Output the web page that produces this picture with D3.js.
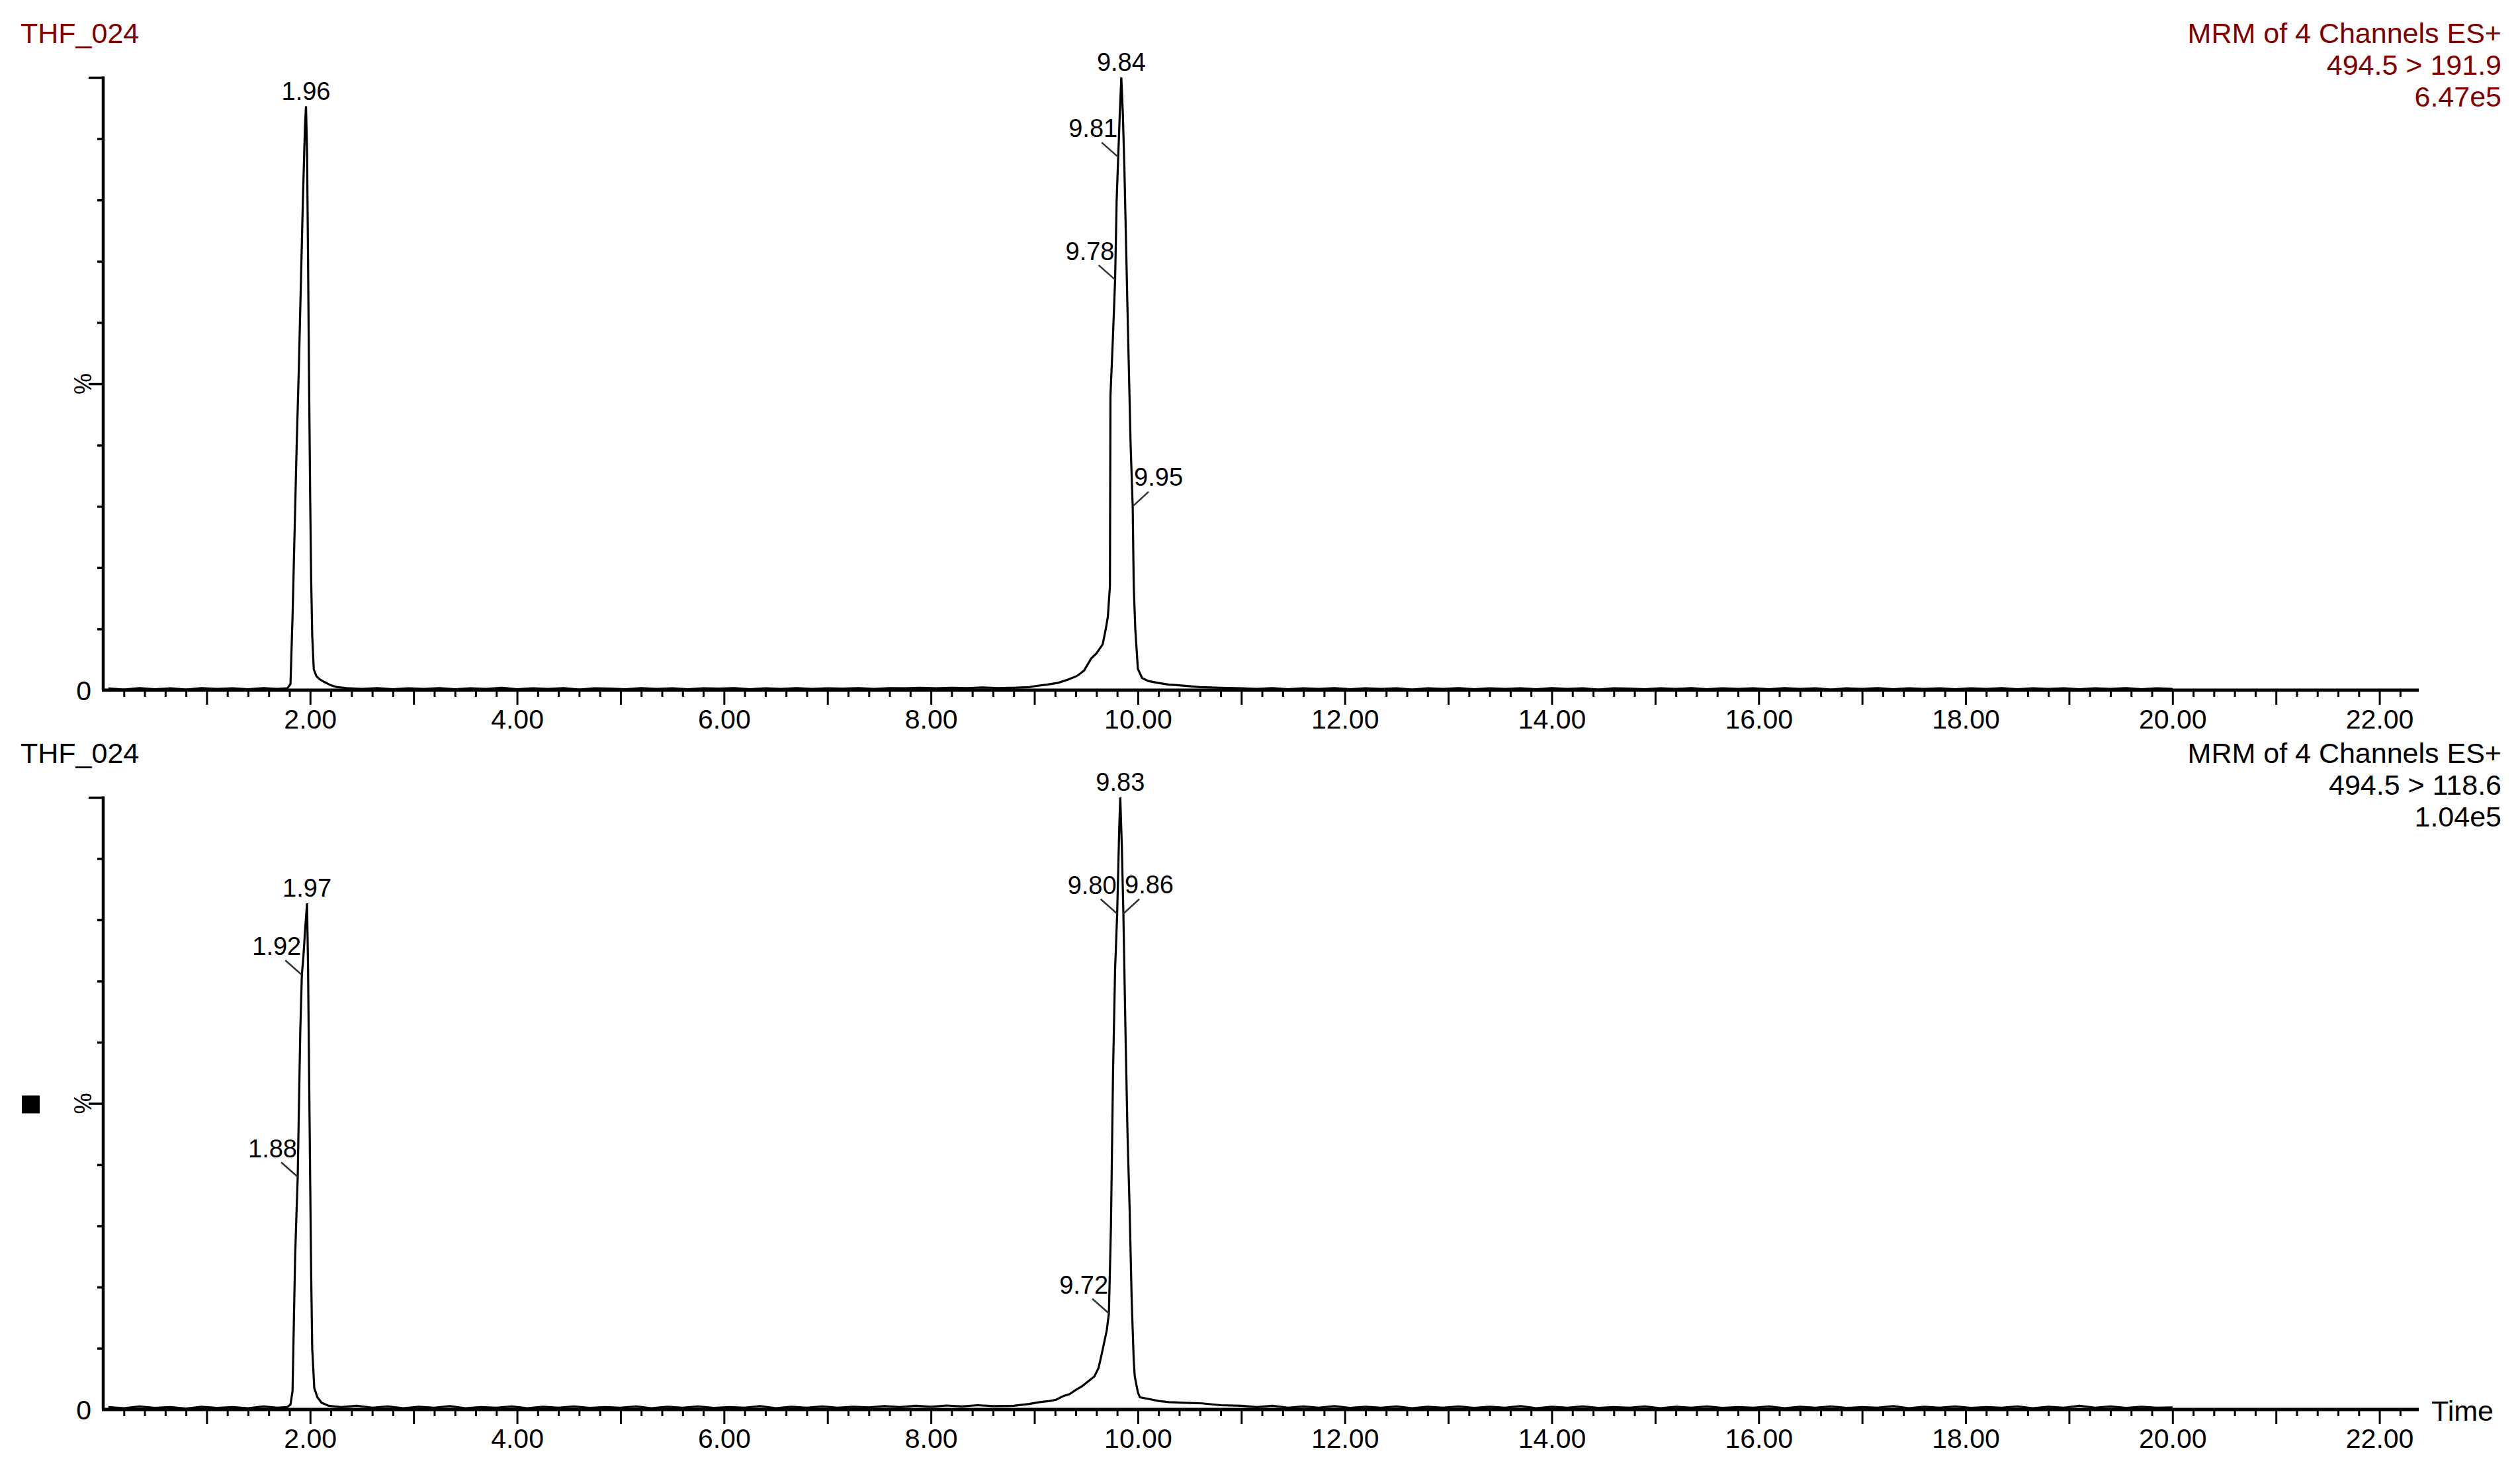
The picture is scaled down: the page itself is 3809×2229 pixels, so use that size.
<!DOCTYPE html>
<html>
<head>
<meta charset="utf-8">
<script src="https://cdn.jsdelivr.net/npm/d3@7"></script>
<style>
  html, body { margin: 0; padding: 0; background: #fff; }
  svg { display: block; }
  text { font-family: "Liberation Sans", Arial, sans-serif; }
</style>
</head>
<body>
<svg id="chart" width="3809" height="2229"></svg>
<script>
// ---------------- DATA ----------------
const panelTitles = ["THF_024", "THF_024"];
const panelHeaderLines = [
  ["MRM of 4 Channels ES+", "494.5 > 191.9", "6.47e5"],
  ["MRM of 4 Channels ES+", "494.5 > 118.6", "1.04e5"]
];
const xLabelTicks = [2, 4, 6, 8, 10, 12, 14, 16, 18, 20, 22];
const xLabelText = ["2.00", "4.00", "6.00", "8.00", "10.00", "12.00", "14.00", "16.00", "18.00", "20.00", "22.00"];
const yShortTicks = [10, 20, 30, 40, 60, 70, 80, 90];
const yLongTicks = [50, 100];

// chromatogram 494.5 > 191.9 : [time (min), intensity (%)]
const traceTop = [
  [0.05,0.3],[0.2,0.1],[0.35,0.35],[0.5,0.15],[0.65,0.3],[0.8,0.1],[0.95,0.35],[1.1,0.2],[1.25,0.3],[1.4,0.15],[1.55,0.35],[1.68,0.2],
  [1.78,0.3],[1.81,1],[1.83,12],[1.85,26],[1.87,40],[1.89,52],[1.91,66],[1.93,80],[1.95,92],[1.96,95.3],[1.97,88],[1.98,70],[1.99,50],[2.00,32],[2.01,18],[2.02,9],[2.035,3.4],[2.06,2.3],[2.09,1.8],[2.13,1.4],[2.2,0.8],[2.26,0.5],[2.35,0.35],
  [2.5,0.2],[2.65,0.35],[2.8,0.15],[2.95,0.3],[3.1,0.2],[3.25,0.35],[3.4,0.15],[3.55,0.3],[3.7,0.2],[3.85,0.4],[4.0,0.15],[4.15,0.3],[4.3,0.2],[4.45,0.35],[4.6,0.1],[4.75,0.3],[4.9,0.25],[5.05,0.15],[5.2,0.35],[5.35,0.2],[5.5,0.3],[5.65,0.15],[5.8,0.3],[5.95,0.25],[6.1,0.35],[6.25,0.15],[6.4,0.3],[6.55,0.2],[6.7,0.35],[6.85,0.2],[7.0,0.3],[7.15,0.25],[7.3,0.35],[7.45,0.2],[7.6,0.35],[7.75,0.3],[7.9,0.4],[8.05,0.3],[8.2,0.4],[8.35,0.35],[8.5,0.45],[8.65,0.35],
  [8.80,0.4],[8.95,0.5],[9.02,0.7],[9.12,0.9],[9.23,1.2],[9.32,1.7],[9.41,2.3],[9.48,3.2],[9.55,5.2],[9.60,6],[9.66,7.5],[9.69,10],[9.71,12],[9.73,17],[9.735,48],[9.76,58],[9.78,67],[9.795,80],[9.81,87],[9.825,94],[9.84,100],[9.855,94],[9.87,85],[9.90,62],[9.93,40],[9.95,30],[9.96,17],[9.975,10],[10.00,3.5],[10.04,2],[10.10,1.5],[10.19,1.2],[10.30,0.9],[10.40,0.8],[10.60,0.5],[10.80,0.4],[11.00,0.3],
  [11.15,0.2],[11.3,0.35],[11.45,0.15],[11.6,0.3],[11.75,0.2],[11.9,0.35],[12.05,0.15],[12.2,0.3],[12.35,0.2],[12.5,0.3],[12.65,0.1],[12.8,0.3],[12.95,0.2],[13.1,0.35],[13.25,0.15],[13.4,0.3],[13.55,0.2],[13.7,0.3],[13.85,0.15],[14.0,0.35],[14.15,0.2],[14.3,0.3],[14.45,0.1],[14.6,0.3],[14.75,0.25],[14.9,0.15],[15.05,0.3],[15.2,0.2],[15.35,0.35],[15.5,0.15],[15.65,0.3],[15.8,0.2],[15.95,0.3],[16.1,0.15],[16.25,0.35],[16.4,0.2],[16.55,0.3],[16.7,0.1],[16.85,0.3],[17.0,0.2],[17.15,0.35],[17.3,0.15],[17.45,0.3],[17.6,0.2],[17.75,0.3],[17.9,0.15],[18.05,0.3],[18.2,0.2],[18.35,0.35],[18.5,0.15],[18.65,0.3],[18.8,0.2],[18.95,0.3],[19.1,0.15],[19.25,0.3],[19.4,0.2],[19.55,0.35],[19.7,0.15],[19.85,0.3],[20.0,0.2]
];

// chromatogram 494.5 > 118.6 : [time (min), intensity (%)]
const traceBottom = [
  [0.05,0.4],[0.2,0.2],[0.35,0.5],[0.5,0.25],[0.65,0.4],[0.8,0.15],[0.95,0.45],[1.1,0.25],[1.25,0.4],[1.4,0.2],[1.55,0.5],[1.68,0.3],
  [1.78,0.4],[1.81,0.8],[1.83,3],[1.84,12],[1.855,25],[1.87,33],[1.88,38],[1.89,48],[1.905,62],[1.92,71],[1.935,74],[1.95,78],[1.97,82.7],[1.98,72],[1.99,55],[2.00,38],[2.01,22],[2.02,10],[2.04,3.5],[2.07,2],[2.11,1.1],[2.18,0.6],[2.3,0.4],
  [2.45,0.6],[2.6,0.3],[2.75,0.5],[2.9,0.2],[3.05,0.45],[3.2,0.3],[3.35,0.55],[3.5,0.2],[3.65,0.4],[3.8,0.3],[3.95,0.5],[4.1,0.2],[4.25,0.45],[4.4,0.3],[4.55,0.5],[4.7,0.25],[4.85,0.4],[5.0,0.3],[5.15,0.5],[5.3,0.2],[5.45,0.45],[5.6,0.3],[5.75,0.5],[5.9,0.25],[6.05,0.4],[6.2,0.3],[6.35,0.55],[6.5,0.2],[6.65,0.45],[6.8,0.3],[6.95,0.5],[7.1,0.3],[7.25,0.45],[7.4,0.35],[7.55,0.55],[7.7,0.4],[7.85,0.6],[8.0,0.45],[8.15,0.65],[8.3,0.5],[8.45,0.7],[8.6,0.55],
  [8.80,0.6],[8.95,0.9],[9.05,1.2],[9.15,1.4],[9.21,1.6],[9.28,2.2],[9.34,2.5],[9.40,3.2],[9.46,3.8],[9.52,4.6],[9.58,5.4],[9.62,6.8],[9.65,9],[9.68,11.4],[9.70,13],[9.72,15.7],[9.74,30],[9.76,55],[9.78,72],[9.80,81],[9.82,95],[9.83,100],[9.845,92],[9.86,81],[9.88,62],[9.90,45],[9.92,33],[9.94,18],[9.96,8],[9.97,5.4],[10.00,2.8],[10.02,2],[10.11,1.7],[10.20,1.4],[10.30,1.2],[10.45,1.1],[10.62,1],[10.8,0.7],[11.0,0.6],
  [11.15,0.4],[11.3,0.6],[11.45,0.3],[11.6,0.5],[11.75,0.3],[11.9,0.55],[12.05,0.25],[12.2,0.45],[12.35,0.3],[12.5,0.5],[12.65,0.2],[12.8,0.45],[12.95,0.3],[13.1,0.5],[13.25,0.25],[13.4,0.45],[13.55,0.3],[13.7,0.55],[13.85,0.2],[14.0,0.45],[14.15,0.3],[14.3,0.5],[14.45,0.25],[14.6,0.4],[14.75,0.3],[14.9,0.5],[15.05,0.2],[15.2,0.45],[15.35,0.3],[15.5,0.5],[15.65,0.25],[15.8,0.4],[15.95,0.3],[16.1,0.5],[16.25,0.2],[16.4,0.45],[16.55,0.3],[16.7,0.5],[16.85,0.25],[17.0,0.4],[17.15,0.3],[17.3,0.55],[17.45,0.2],[17.6,0.45],[17.75,0.3],[17.9,0.5],[18.05,0.25],[18.2,0.4],[18.35,0.3],[18.5,0.5],[18.65,0.2],[18.8,0.45],[18.95,0.3],[19.1,0.6],[19.25,0.3],[19.4,0.5],[19.55,0.25],[19.7,0.45],[19.85,0.3],[20.0,0.35]
];

// peak annotations: time, intensity, label placement
const peaksTop = [
  { t: 1.96, v: 95.3, pos: "apex" },
  { t: 9.84, v: 100, pos: "apex" },
  { t: 9.81, v: 87, pos: "left" },
  { t: 9.78, v: 67, pos: "left" },
  { t: 9.95, v: 30, pos: "right" }
];
const peaksBottom = [
  { t: 1.97, v: 82.7, pos: "apex" },
  { t: 1.92, v: 71, pos: "left" },
  { t: 1.88, v: 38, pos: "left" },
  { t: 9.83, v: 100, pos: "apex" },
  { t: 9.80, v: 81, pos: "left" },
  { t: 9.86, v: 81, pos: "right" },
  { t: 9.72, v: 15.7, pos: "left" }
];

// ---------------- DRAW ----------------
const svg = d3.select("#chart");
svg.append("rect").attr("width", 3809).attr("height", 2229).attr("fill", "#fff");

const x = d3.scaleLinear().domain([0, 22.38]).range([156, 3656]);

const panels = [
  { top: 117, base: 1043, title: panelTitles[0], header: panelHeaderLines[0], color: "#800000",
    trace: traceTop, peaks: peaksTop, marker: false, timeLabel: false },
  { top: 1205, base: 2130, title: panelTitles[1], header: panelHeaderLines[1], color: "#000000",
    trace: traceBottom, peaks: peaksBottom, marker: true, timeLabel: true }
];

panels.forEach(p => {
  const y = d3.scaleLinear().domain([0, 100]).range([p.base, p.top]);
  const g = svg.append("g");

  // title & header
  g.append("text").attr("x", 31).attr("y", p.top - 52)
    .attr("font-size", 43).attr("fill", p.color).text(p.title);
  p.header.forEach((line, i) => {
    g.append("text").attr("x", 3781).attr("y", p.top - 52 + i * 48)
      .attr("text-anchor", "end").attr("font-size", 43).attr("fill", p.color).text(line);
  });

  // trace
  const line = d3.line().x(d => x(d[0])).y(d => y(d[1]));
  g.append("path").datum(p.trace).attr("d", line)
    .attr("fill", "none").attr("stroke", "#000").attr("stroke-width", 3.2)
    .attr("stroke-linejoin", "miter");

  // x axis: minor ticks (0.2 min)
  const minorVals = d3.range(1, 112).map(i => i / 5).filter(v => Math.abs(v - Math.round(v)) > 1e-6);
  const xMinor = d3.axisBottom(x).tickValues(minorVals).tickSize(10).tickFormat("");
  const gMinor = g.append("g").attr("transform", `translate(0,${p.base})`).call(xMinor);
  // x axis: integer ticks with labels every 2 min
  const intVals = d3.range(1, 23);
  const xMajor = d3.axisBottom(x).tickValues(intVals).tickSize(22)
    .tickFormat(d => { const k = xLabelTicks.indexOf(d); return k >= 0 ? xLabelText[k] : ""; });
  const gMajor = g.append("g").attr("transform", `translate(0,${p.base})`).call(xMajor);
  [gMinor, gMajor].forEach(a => {
    a.select(".domain").remove();
    a.selectAll(".tick line").attr("stroke", "#000").attr("stroke-width", 3);
  });
  gMajor.selectAll(".tick text").attr("font-size", 41).attr("fill", "#000")
    .attr("font-family", "Liberation Sans, Arial, sans-serif").attr("dy", 0).attr("y", 58);

  // x axis baseline
  g.append("line").attr("x1", x(0) - 2).attr("x2", x(22.38)).attr("y1", p.base).attr("y2", p.base)
    .attr("stroke", "#000").attr("stroke-width", 5);

  // y axis
  const yShort = d3.axisLeft(y).tickValues(yShortTicks).tickSize(9).tickFormat("");
  const yLong = d3.axisLeft(y).tickValues(yLongTicks).tickSize(22).tickFormat("");
  [yShort, yLong].forEach(ax => {
    const a = g.append("g").attr("transform", `translate(${x(0)},0)`).call(ax);
    a.select(".domain").remove();
    a.selectAll(".tick line").attr("stroke", "#000").attr("stroke-width", 3.5);
  });
  g.append("line").attr("x1", x(0)).attr("x2", x(0)).attr("y1", p.top - 1.5).attr("y2", p.base)
    .attr("stroke", "#000").attr("stroke-width", 4.5);

  // y labels
  g.append("text").attr("x", 138).attr("y", y(0) + 15).attr("text-anchor", "end")
    .attr("font-size", 41).attr("fill", "#000").text("0");
  g.append("text").attr("transform", `translate(${138},${y(50)}) rotate(-90)`)
    .attr("text-anchor", "middle").attr("font-size", 36).attr("fill", "#000").text("%");

  // peak annotations
  p.peaks.forEach(pk => {
    const px = x(pk.t), py = y(pk.v);
    const label = pk.t.toFixed(2);
    if (pk.pos === "apex") {
      g.append("text").attr("x", px).attr("y", py - 10).attr("text-anchor", "middle")
        .attr("font-size", 38).attr("fill", "#000").text(label);
    } else if (pk.pos === "left") {
      g.append("line").attr("x1", px - 25).attr("y1", py - 22).attr("x2", px).attr("y2", py)
        .attr("stroke", "#333").attr("stroke-width", 2.5);
      g.append("text").attr("x", px - 1).attr("y", py - 30).attr("text-anchor", "end")
        .attr("font-size", 38).attr("fill", "#000").text(label);
    } else {
      g.append("line").attr("x1", px + 24).attr("y1", py - 22).attr("x2", px).attr("y2", py)
        .attr("stroke", "#333").attr("stroke-width", 2.5);
      g.append("text").attr("x", px + 2).attr("y", py - 31).attr("text-anchor", "start")
        .attr("font-size", 38).attr("fill", "#000").text(label);
    }
  });

  if (p.marker) {
    g.append("rect").attr("x", 33).attr("y", y(50) - 12).attr("width", 27).attr("height", 27).attr("fill", "#000");
  }
  if (p.timeLabel) {
    g.append("text").attr("x", 3675).attr("y", p.base + 17).attr("font-size", 43)
      .attr("fill", "#000").text("Time");
  }
});
</script>
</body>
</html>
